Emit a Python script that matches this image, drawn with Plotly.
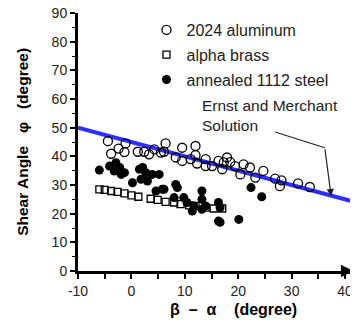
import plotly.graph_objects as go

# ---- data ----
aluminum_x = [-4.4, -3.8, -2.4, -1.1, -1.3, 1.2, 2.4, 3.3, 4.3, 5.5, 6.4, 6.1, 8.3, 9.5, 9.5,
              11.1, 12.0, 12.0, 12.3, 13.9, 13.9, 15.1, 16.3, 17.0, 17.9, 18.5, 19.4, 21.0,
              20.4, 22.2, 23.2, 24.7, 26.9, 27.8, 28.1, 31.2, 33.4, 17.3]
aluminum_y = [45.3, 40.9, 42.7, 44.5, 41.5, 41.6, 41.6, 40.7, 42.4, 41.3, 44.5, 41.6, 39.6, 43.0, 38.4,
              39.0, 43.6, 40.4, 37.5, 39.0, 36.6, 36.6, 38.4, 35.5, 39.6, 38.0, 36.6, 37.2,
              33.7, 36.1, 32.6, 34.9, 32.2, 29.6, 31.6, 30.6, 29.3, 37.9]

brass_x = [-6.0, -5.0, -3.8, -2.6, -1.3, 0.0, 1.3, 3.6, 4.9, 6.4, 8.0, 9.2, 10.8, 12.0, 13.9, 15.4, 17.0]
brass_y = [28.5, 28.3, 27.9, 27.6, 27.1, 26.4, 25.9, 25.2, 24.8, 24.1, 23.9, 23.3, 22.9, 22.7, 22.1, 21.8, 21.8]

steel_x = [-6.0, -4.1, -2.9, -3.2, -2.2, -1.3, 0.2, 1.5, 1.8, 2.7, 3.0, 3.9, 5.2, 4.6, 5.8,
           8.3, 8.6, 8.0, 9.8, 10.4, 11.4, 11.7, 13.2, 13.2, 13.2, 13.9, 16.3, 16.6, 16.3,
           16.6, 20.1, 22.4, 24.4, -1.9, 2.1, 6.1]
steel_y = [35.2, 36.6, 37.8, 34.9, 36.1, 34.3, 30.8, 35.5, 32.0, 34.3, 31.4, 33.7, 33.7, 27.9, 28.5,
           30.2, 29.1, 25.6, 25.6, 23.9, 20.9, 22.7, 27.9, 25.0, 21.5, 22.7, 23.9, 22.1, 17.4,
           17.0, 18.0, 29.1, 25.9, 33.7, 36.1, 28.5]

theory_x = [-10, 41]
theory_y = [45 - v / 2 for v in theory_x]   # Ernst and Merchant: phi = 45 - (beta - alpha)/2

x_ticks = [-10, 0, 10, 20, 30, 40]
y_ticks = [0, 10, 20, 30, 40, 50, 60, 70, 80, 90]

FONT = "Liberation Sans, Arial, Helvetica, sans-serif"
NB = "\u00a0"

fig = go.Figure()
fig.add_trace(go.Scatter(
    x=theory_x, y=theory_y, mode="lines", line=dict(color="rgb(45,45,255)", width=4),
    showlegend=False, hoverinfo="skip"))
fig.add_trace(go.Scatter(
    x=aluminum_x, y=aluminum_y, mode="markers", name="2024 aluminum", legendgroup="a",
    marker=dict(symbol="circle-open", size=9, color="black", line=dict(width=1.3))))
fig.add_trace(go.Scatter(
    x=brass_x, y=brass_y, mode="markers", name="alpha brass", legendgroup="b",
    marker=dict(symbol="square-open", size=7, color="black", line=dict(width=1.3))))
fig.add_trace(go.Scatter(
    x=steel_x, y=steel_y, mode="markers", name="annealed 1112 steel", legendgroup="c",
    marker=dict(symbol="circle", size=9, color="black")))

# Ernst and Merchant label with bent arrow
fig.add_annotation(x=12.9, y=54.4, xref="x", yref="y", text="Ernst and Merchant<br>Solution",
                   showarrow=False, xanchor="left", yanchor="middle", align="left",
                   font=dict(family=FONT, size=15.5, color="#222"))
fig.add_shape(type="line", x0=26.9, y0=48.5, x1=36.2, y1=43.0, xref="x", yref="y",
              line=dict(color="#222", width=1.2))
fig.add_annotation(x=37.4, y=26.1, ax=36.2, ay=43.0, xref="x", yref="y", axref="x", ayref="y",
                   text="", showarrow=True, arrowhead=2, arrowsize=1.2, arrowwidth=1.2,
                   arrowcolor="#222")
# x-axis arrowhead
fig.add_annotation(x=1.005, y=0, ax=0.97, ay=0, xref="x domain", yref="y domain",
                   axref="x domain", ayref="y domain", text="", showarrow=True, arrowhead=2,
                   arrowsize=1, arrowwidth=2.5, arrowcolor="black")

# axis titles
fig.add_annotation(x=(300 - 78.3) / 274.4, y=-0.148, xref="paper", yref="paper",
                   text="β" + NB * 2 + "–" + NB * 2 + "α" + NB * 4 + "(degree)", showarrow=False,
                   xanchor="right", yanchor="middle",
                   font=dict(family=FONT, size=16, color="black", weight="bold"))
fig.add_annotation(x=-0.205, y=0.50, xref="paper", yref="paper",
                   text="Shear Angle" + NB * 3 + "φ" + NB * 3 + "(degree)", showarrow=False,
                   textangle=-90, xanchor="center", yanchor="middle",
                   font=dict(family=FONT, size=15.5, color="black", weight="bold"))

fig.update_layout(
    width=350, height=315,
    margin=dict(l=70, r=6, t=5, b=52, autoexpand=False),
    paper_bgcolor="white", plot_bgcolor="white",
    font=dict(family=FONT, size=14, color="#222"),
    showlegend=True,
    legend=dict(x=0.25, y=1.0, xanchor="left", yanchor="top", bgcolor="rgba(0,0,0,0)",
                tracegroupgap=1, font=dict(family=FONT, size=16, color="#222")),
    xaxis=dict(range=[-10, 41.3], tickvals=x_ticks, ticktext=[str(v) for v in x_ticks],
               automargin=False,
               showgrid=False, zeroline=False, showline=True, linecolor="black", linewidth=3,
               ticks="outside", ticklen=5, tickwidth=1.5, tickcolor="black",
               ticklabeloverflow="allow",
               minor=dict(dtick=5, tick0=0, ticks="outside", ticklen=5, tickwidth=1.5,
                          tickcolor="black"),
               tickfont=dict(family=FONT, size=14, color="#222")),
    yaxis=dict(range=[0, 90], tickvals=y_ticks, showgrid=False, zeroline=False,
               automargin=False,
               showline=True, linecolor="black", linewidth=3,
               ticks="outside", ticklen=5, tickwidth=1.5, tickcolor="black",
               ticklabeloverflow="allow",
               minor=dict(dtick=5, tick0=0, ticks="outside", ticklen=3, tickwidth=1,
                          tickcolor="black"),
               tickfont=dict(family=FONT, size=14, color="#222")),
)

fig.write_html("out.html")
